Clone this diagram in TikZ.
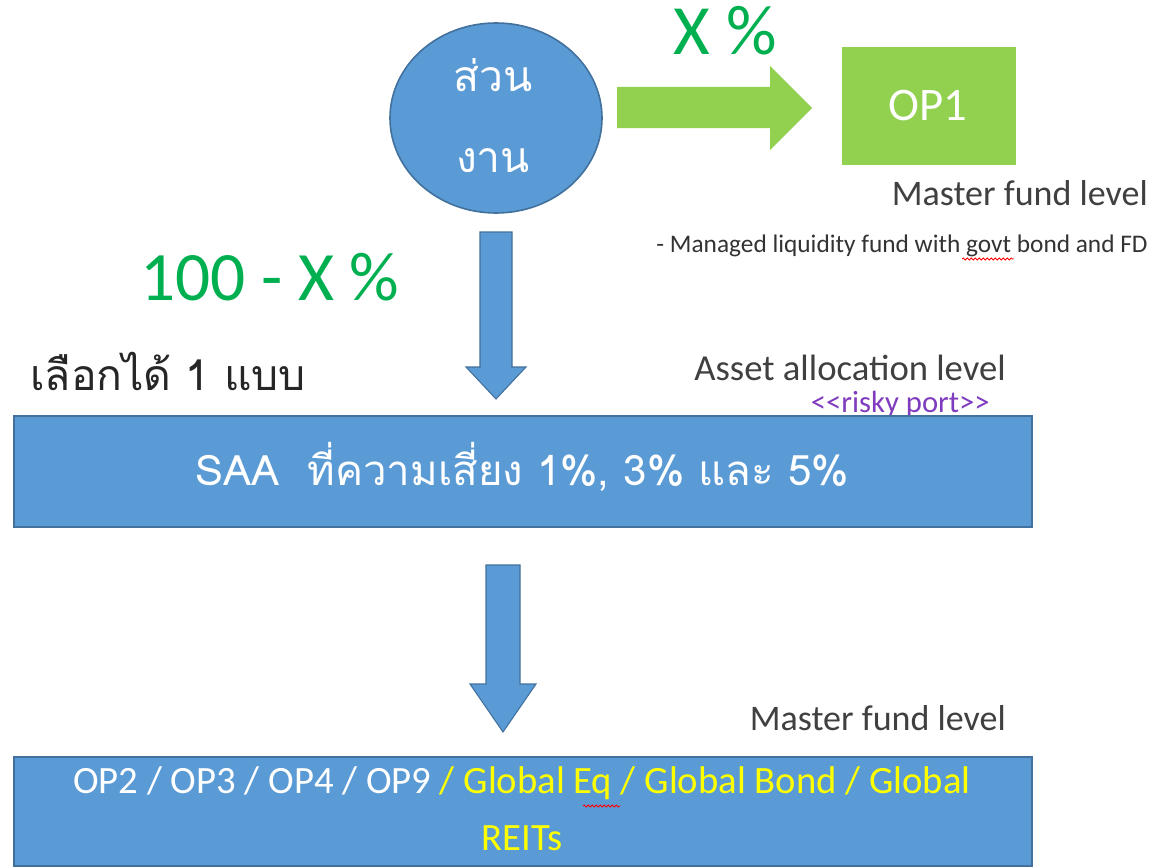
\documentclass[tikz,border=0pt]{standalone}
\usepackage{fontspec}
\setmainfont{Carlito}
\newfontfamily\thai[Script=Thai]{Loma}
\usetikzlibrary{shapes.geometric,decorations.pathmorphing}
\definecolor{bfill}{RGB}{91,155,213}
\definecolor{bedge}{RGB}{65,113,156}
\definecolor{agreen}{RGB}{146,208,80}
\definecolor{tgreen}{RGB}{0,176,80}
\definecolor{ylw}{RGB}{255,255,0}
\definecolor{gtext}{RGB}{64,64,64}
\definecolor{purp}{RGB}{128,60,190}
\tikzset{
  blockarrow/.style={fill=bfill,draw=bedge,line width=0.8pt},
  greenarrow/.style={fill=agreen},
  bar/.style={fill=bfill,draw=bedge,line width=1.5pt},
  lbl/.style={inner sep=0pt,text=gtext},
  squiggle/.style={red,line width=0.6pt,decorate,decoration={snake,amplitude=0.8pt,segment length=3pt}}
}
\begin{document}
\begin{tikzpicture}[x=0.75pt,y=-0.75pt]
\useasboundingbox (0,0) rectangle (1153,867);
\fill[white] (0,0) rectangle (1153,867);

% source ellipse
\node[ellipse,fill=bfill,draw=bedge,line width=1.2pt,minimum width=159pt,minimum height=142.5pt,inner sep=0pt] (src) at (496,118) {};
\node[anchor=base,inner sep=0pt,text=white,font=\thai\fontsize{32}{38}\selectfont] (srcA) at (493,92) {ส่วน};
\node[anchor=base,inner sep=0pt,text=white,font=\thai\fontsize{32}{38}\selectfont] (srcB) at (493,172) {งาน};

% green arrow to OP1
\fill[greenarrow] (617,87) -- (770,87) -- (770,66) -- (812,108) -- (770,150) -- (770,128) -- (617,128) -- cycle;
\node[anchor=base,inner sep=0pt,text=tgreen,font=\fontsize{53}{60}\selectfont] (xp) at (725,55) {X \%};

% OP1
\node[fill=agreen,minimum width=130.5pt,minimum height=88.5pt,inner sep=0pt] (op1) at (929,106) {};
\node[anchor=base,inner sep=0pt,text=white,font=\fontsize{35}{40}\selectfont] (op1t) at (928,120) {OP1};

\node[lbl,anchor=base east,font=\fontsize{27}{32}\selectfont] (mf1) at (1148,205) {Master fund level};
\node[lbl,anchor=base east,text=black!80,font=\fontsize{19}{22}\selectfont] (liq) at (1148,252) {- Managed liquidity fund with govt bond and FD};
\draw[squiggle] (962,259) -- (1014,259);

% down arrow 1
\draw[blockarrow] (480,232) -- (512,232) -- (512,367) -- (526,367) -- (496,399) -- (466,367) -- (480,367) -- cycle;
\node[anchor=base west,inner sep=0pt,text=tgreen,font=\fontsize{52}{60}\selectfont] (rest) at (140,300) {100 - X \%};

\node[anchor=base west,inner sep=0pt,text=black!85,font=\thai\fontsize{32}{38}\selectfont] (choose) at (30,390) {เลือกได้ 1 แบบ};
\node[lbl,anchor=base east,font=\fontsize{27.5}{32}\selectfont] (aal) at (1006,380) {Asset allocation level};
\node[anchor=base east,inner sep=0pt,text=purp,font=\fontsize{23}{26}\selectfont] (risky) at (990,412) {<{}<risky port>{}>};

% SAA bar
\draw[bar] (14,416) rectangle (1032,527);
\node[anchor=base,inner sep=0pt,text=white,font=\thai\fontsize{31.5}{38}\selectfont] (saa) at (522,485) {SAA\ \ ที่ความเสี่ยง 1\%, 3\% และ 5\%};

% down arrow 2
\draw[blockarrow] (486,565) -- (520,565) -- (520,684) -- (536,684) -- (503,732) -- (470,684) -- (486,684) -- cycle;
\node[lbl,anchor=base east,font=\fontsize{27}{32}\selectfont] (mf2) at (1006,730) {Master fund level};

% bottom bar
\draw[bar] (14,757) rectangle (1032,866);
\node[anchor=base,inner sep=0pt,font=\fontsize{29}{34}\selectfont] (funds) at (522,793) {\textcolor{white}{OP2 / OP3 / OP4 / OP9} \textcolor{ylw}{/ Global Eq / Global Bond / Global}};
\node[anchor=base,inner sep=0pt,text=ylw,font=\fontsize{29}{34}\selectfont] (reits) at (522,850) {REITs};
\draw[squiggle] (583,806) -- (620,806);
\end{tikzpicture}
\end{document}
